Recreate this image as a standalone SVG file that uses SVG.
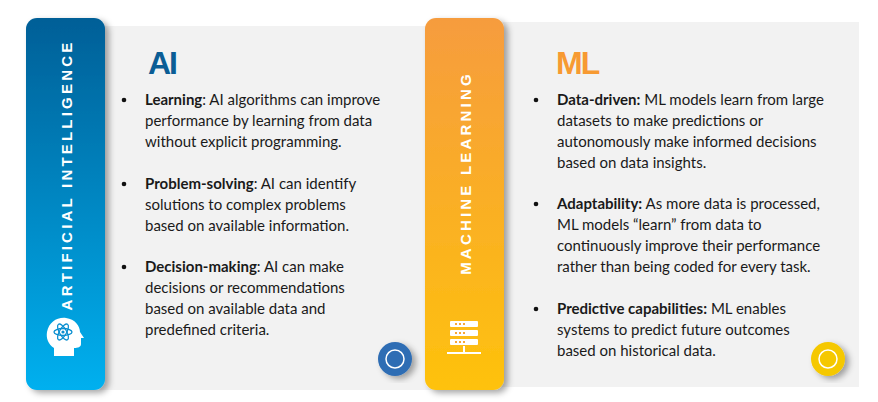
<svg xmlns="http://www.w3.org/2000/svg" width="878" height="402" viewBox="0 0 878 402">
<defs>
<linearGradient id="gb" x1="0" y1="0" x2="0" y2="1"><stop offset="0" stop-color="#015f97"/><stop offset="1" stop-color="#01b0ef"/></linearGradient>
<linearGradient id="go" x1="0" y1="0" x2="0" y2="1"><stop offset="0" stop-color="#f69c3e"/><stop offset="1" stop-color="#fec20c"/></linearGradient>
<filter id="sh" x="-20%" y="-10%" width="150%" height="130%"><feDropShadow dx="4" dy="3" stdDeviation="3" flood-opacity="0.35"/></filter>
<style>
.t{font-family:"Lato","Liberation Sans",sans-serif;font-size:15px;fill:#1a1a1a}
.b{font-weight:bold}
.v{font-family:"Liberation Sans",sans-serif;font-size:15px;font-weight:bold;fill:#fff;letter-spacing:3.2px}
.h{font-family:"Liberation Sans",sans-serif;font-size:32px;font-weight:bold;letter-spacing:-2px}
</style>
</defs>
<rect width="878" height="402" fill="#fff"/>
<g id="ai">
<rect x="100" y="26" width="340" height="364" fill="#f2f2f2"/>
<rect x="26" y="18" width="79" height="372" rx="11" fill="url(#gb)" filter="url(#sh)"/>
<text class="v" transform="translate(72,175) rotate(-90)" text-anchor="middle">ARTIFICIAL INTELLIGENCE</text>
<g fill="#fff">
<path d="M54,356 v-8 c-6,-4 -8,-10 -7,-16 c2,-10 10,-15 19,-14 c9,1 14,8 14,14 l4,6 h-3 v6 c0,3 -3,4 -7,4 v8 z"/>
</g>
<g fill="none" stroke="#0a8fd0" stroke-width="1.3">
<ellipse cx="63" cy="332" rx="9" ry="3.5"/>
<ellipse cx="63" cy="332" rx="9" ry="3.5" transform="rotate(60 63 332)"/>
<ellipse cx="63" cy="332" rx="9" ry="3.5" transform="rotate(-60 63 332)"/>
</g>
<circle cx="63" cy="332" r="1.6" fill="#0a8fd0"/>
<text class="h" x="148" y="74" fill="#0b5d95">AI</text>
<g class="t">
<circle cx="124" cy="100" r="2.3" fill="#111"/>
<text x="145" y="105"><tspan class="b">Learning</tspan>: AI algorithms can improve</text>
<text x="145" y="126">performance by learning from data</text>
<text x="145" y="147">without explicit programming.</text>
<circle cx="124" cy="184" r="2.3" fill="#111"/>
<text x="145" y="189"><tspan class="b">Problem-solving</tspan>: AI can identify</text>
<text x="145" y="210">solutions to complex problems</text>
<text x="145" y="231">based on available information.</text>
<circle cx="124" cy="267" r="2.3" fill="#111"/>
<text x="145" y="272"><tspan class="b">Decision-making</tspan>: AI can make</text>
<text x="145" y="293">decisions or recommendations</text>
<text x="145" y="314">based on available data and</text>
<text x="145" y="335">predefined criteria.</text>
</g>
<circle cx="395" cy="359" r="17" fill="#2e6db4" filter="url(#sh)"/>
<circle cx="395" cy="359" r="9" fill="none" stroke="#fff" stroke-width="1.5"/>
</g>
<g id="ml">
<rect x="500" y="22" width="359" height="365" fill="#f2f2f2"/>
<rect x="425" y="18" width="79" height="372" rx="11" fill="url(#go)" filter="url(#sh)"/>
<text class="v" transform="translate(471,173) rotate(-90)" text-anchor="middle">MACHINE LEARNING</text>
<g fill="#fff">
<rect x="450" y="321" width="28" height="6" rx="1"/>
<rect x="450" y="330" width="28" height="6" rx="1"/>
<rect x="450" y="339" width="28" height="6" rx="1"/>
<rect x="447" y="352" width="34" height="2"/>
<rect x="463" y="346" width="2" height="8"/>
</g>
<g fill="#f8a835">
<rect x="455" y="323" width="2" height="2"/><rect x="459" y="323" width="2" height="2"/><rect x="463" y="323" width="2" height="2"/>
<rect x="455" y="332" width="2" height="2"/><rect x="459" y="332" width="2" height="2"/><rect x="463" y="332" width="2" height="2"/>
<rect x="455" y="341" width="2" height="2"/><rect x="459" y="341" width="2" height="2"/><rect x="463" y="341" width="2" height="2"/>
</g>
<text class="h" x="556" y="74" fill="#f79a32">ML</text>
<g class="t">
<circle cx="536" cy="100" r="2.3" fill="#111"/>
<text x="557" y="105"><tspan class="b">Data-driven:</tspan> ML models learn from large</text>
<text x="557" y="126">datasets to make predictions or</text>
<text x="557" y="147">autonomously make informed decisions</text>
<text x="557" y="168">based on data insights.</text>
<circle cx="536" cy="204" r="2.3" fill="#111"/>
<text x="557" y="209"><tspan class="b">Adaptability:</tspan> As more data is processed,</text>
<text x="557" y="230">ML models “learn” from data to</text>
<text x="557" y="251">continuously improve their performance</text>
<text x="557" y="272">rather than being coded for every task.</text>
<circle cx="536" cy="309" r="2.3" fill="#111"/>
<text x="557" y="314"><tspan class="b">Predictive capabilities:</tspan> ML enables</text>
<text x="557" y="335">systems to predict future outcomes</text>
<text x="557" y="356">based on historical data.</text>
</g>
<circle cx="828" cy="359" r="17" fill="#f5c800" filter="url(#sh)"/>
<circle cx="828" cy="359" r="9" fill="none" stroke="#fff" stroke-width="1.5"/>
</g>
<g id="connectors"/>
</svg>
